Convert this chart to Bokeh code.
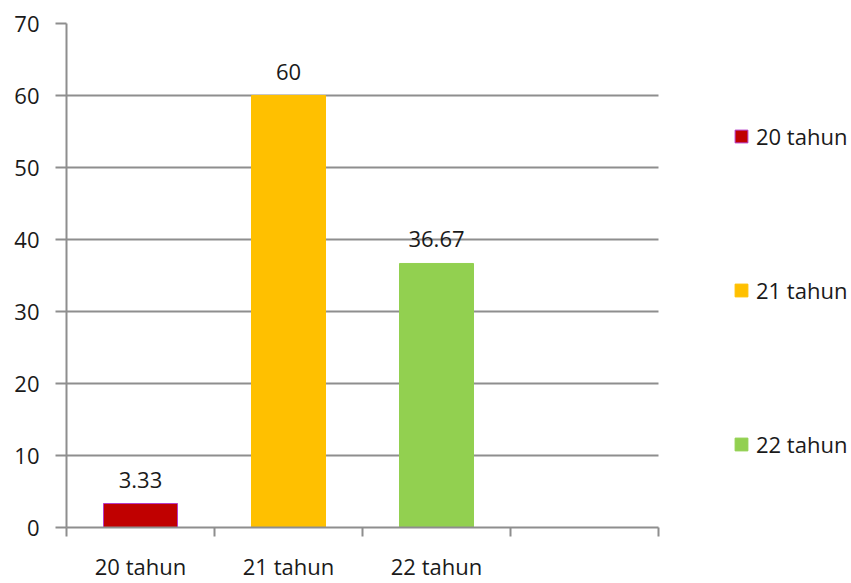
from bokeh.plotting import figure
from bokeh.models import (ColumnDataSource, Range1d, FixedTicker, Legend,
                          LegendItem)
from bokeh.core.properties import value
from bokeh.embed import file_html
from bokeh.resources import INLINE

# Age groups and their percentages
categories = ["20 tahun", "21 tahun", "22 tahun"]
percentages = [3.33, 60, 36.67]
fill_colors = ["#C00000", "#FFC000", "#92D050"]
edge_colors = ["#B43CC8", "#FFC000", "#92D050"]
y_ticks = [0, 10, 20, 30, 40, 50, 60, 70]

FONT = "Open Sans"
FONT_SIZE = "22px"
TEXT = "#1a1a1a"
GRID = "#8e8e8e"

W, H = 851, 583
LEFT, TOP, BOTTOM = 66, 23, 55
PLOT_W = 592            # width of the four category slots in pixels

# each category sits in the middle of a unit-wide slot; a fourth slot stays empty
slots = 4
x_pos = [i + 0.5 for i in range(len(categories))]
# the frame runs to the right edge so the legend can sit inside it
x_end = slots * (W - LEFT) / PLOT_W

src = ColumnDataSource(dict(
    x=x_pos,
    top=percentages,
    fill=fill_colors,
    edge=edge_colors,
    label=[f"{v:g}" for v in percentages],
    cat=categories,
))

p = figure(width=W, height=H, output_backend="svg", toolbar_location=None,
           x_range=Range1d(0, x_end), y_range=Range1d(0, 70),
           min_border_left=LEFT, min_border_right=0,
           min_border_top=TOP, min_border_bottom=BOTTOM)
p.outline_line_color = None
p.background_fill_color = "white"
p.border_fill_color = "white"

bars = p.vbar(x="x", top="top", width=0.5, bottom=0, source=src,
              fill_color="fill", line_color="edge", line_width=1)

p.text(x="x", y="top", text="label", source=src,
       text_font=value(FONT), text_font_size=FONT_SIZE, text_color=TEXT,
       text_align="center", text_baseline="bottom", y_offset=-16)

# x axis: labels at slot centres, tick marks at slot boundaries
xa = p.xaxis[0]
xa.bounds = (0, slots)
xa.ticker = FixedTicker(ticks=x_pos, minor_ticks=list(range(slots + 1)))
xa.major_label_overrides = {x: c for x, c in zip(x_pos, categories)}
xa.major_tick_out = 0
xa.major_tick_in = 0
xa.minor_tick_out = 9
xa.minor_tick_in = 0
xa.minor_tick_line_color = GRID
xa.minor_tick_line_width = 2
xa.axis_line_color = GRID
xa.axis_line_width = 2
xa.major_label_standoff = 14
xa.major_label_text_font = FONT
xa.major_label_text_font_size = FONT_SIZE
xa.major_label_text_color = TEXT

ya = p.yaxis[0]
ya.ticker = FixedTicker(ticks=y_ticks, minor_ticks=[])
ya.major_tick_out = 11
ya.major_tick_in = 0
ya.major_tick_line_color = GRID
ya.major_tick_line_width = 2
ya.axis_line_color = GRID
ya.axis_line_width = 2
ya.major_label_standoff = 16
ya.major_label_text_font = FONT
ya.major_label_text_font_size = FONT_SIZE
ya.major_label_text_color = TEXT

p.xgrid.grid_line_color = None
p.ygrid.grid_line_color = GRID
p.ygrid.grid_line_width = 2
p.ygrid.cross_bounds = (0, slots)

items = [LegendItem(label=c, renderers=[bars], index=i)
         for i, c in enumerate(categories)]
legend = Legend(items=items, location=(667, 68), orientation="vertical",
                glyph_width=16, glyph_height=16, label_height=16,
                spacing=124, padding=0, margin=0, label_standoff=7,
                border_line_color=None, background_fill_alpha=0,
                label_text_font=FONT, label_text_font_size=FONT_SIZE,
                label_text_color=TEXT)
p.add_layout(legend)

open("out.html", "w").write(file_html(p, INLINE))
